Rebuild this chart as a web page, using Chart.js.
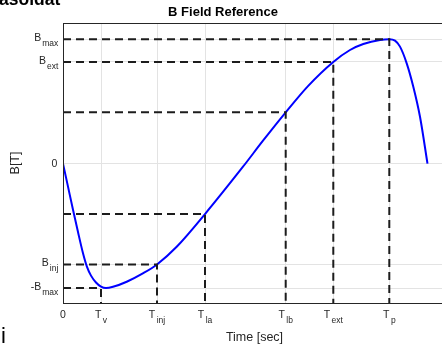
<!DOCTYPE html>
<html><head><meta charset="utf-8">
<script src="https://cdn.jsdelivr.net/npm/chart.js@4"></script>
<style>html,body{margin:0;padding:0;background:#fff;overflow:hidden}canvas{display:block}</style>
</head><body>
<canvas id="c" width="450" height="345"></canvas>
<script>
// B field reference curve (time in arbitrary units, B normalised to Bmax = 1)
const curveX = [0, 0.05, 0.1, 0.15, 0.2, 0.24, 0.28, 0.33, 0.38, 0.43, 0.5, 0.637, 0.803, 0.94, 1.137, 1.42, 1.8, 2.0, 2.227, 2.45, 2.703, 2.87, 3.003, 3.17, 3.263, 3.32, 3.37, 3.437, 3.503, 3.57, 3.645];
const curveY = [0, -0.185, -0.37, -0.55, -0.72, -0.83, -0.9, -0.955, -0.988, -1.0, -0.99, -0.949, -0.88, -0.81, -0.668, -0.405, -0.025, 0.184, 0.412, 0.623, 0.817, 0.913, 0.961, 0.994, 1.0, 0.988, 0.94, 0.806, 0.618, 0.377, 0.0];
// guide (dashed) lines: corner points
const guideX = [0.38, 0.94, 1.42, 2.227, 2.703, 3.263];
const guideY = [-1.0, -0.81, -0.405, 0.412, 0.817, 1.0];
// tick labels
const xTickValues = [0, 0.38, 0.94, 1.42, 2.227, 2.703, 3.263];
const xTickMain = ['0', 'T', 'T', 'T', 'T', 'T', 'T'];
const xTickSub = ['', 'v', 'inj', 'la', 'lb', 'ext', 'p'];
const yTickValues = [-1.0, -0.81, 0, 0.817, 1.0];
const yTickMain = ['-B', 'B', '0', 'B', 'B'];
const yTickSub = ['max', 'inj', '', 'ext', 'max'];
const xMin = 0, xMax = 3.83, yMin = -1.12, yMax = 1.13;

const FONT = '"Liberation Sans", Arial, Helvetica, sans-serif';
const TXT = '#262626';

const guideSets = guideX.map((gx, i) => ({
  data: [{x: xMin, y: guideY[i]}, {x: gx, y: guideY[i]}, {x: gx, y: yMin}],
  borderColor: '#1c1c1c', borderWidth: 2, borderDash: [8, 5],
  pointRadius: 0, fill: false, tension: 0, order: 0
}));

const labelPlugin = {
  id: 'labels',
  afterDraw(chart) {
    const ctx = chart.ctx;
    const xs = chart.scales.x, ys = chart.scales.y, ca = chart.chartArea;
    ctx.save();
    // frame box
    ctx.strokeStyle = TXT; ctx.lineWidth = 1;
    ctx.strokeRect(ca.left + 0.5, ca.top + 0.5, ca.right - ca.left - 1, ca.bottom - ca.top);
    ctx.fillStyle = TXT;
    ctx.textBaseline = 'alphabetic';
    const mainF = '10.5px ' + FONT, subF = '8.5px ' + FONT;
    // x tick labels
    xTickValues.forEach((v, i) => {
      const px = xs.getPixelForValue(v);
      ctx.font = mainF; const wm = ctx.measureText(xTickMain[i]).width;
      ctx.font = subF; const ws = xTickSub[i] ? ctx.measureText(xTickSub[i]).width + 1.5 : 0;
      const x0 = px - (wm + ws) / 2;
      ctx.textAlign = 'left';
      ctx.font = mainF; ctx.fillText(xTickMain[i], x0, 318);
      if (xTickSub[i]) { ctx.font = subF; ctx.fillText(xTickSub[i], x0 + wm + 1.5, 323); }
    });
    // y tick labels
    yTickValues.forEach((v, i) => {
      const py = ys.getPixelForValue(v);
      const right = 58.3;
      ctx.textAlign = 'left';
      if (yTickSub[i]) {
        ctx.font = subF; const ws = ctx.measureText(yTickSub[i]).width;
        ctx.font = mainF; const wm = ctx.measureText(yTickMain[i]).width;
        ctx.fillText(yTickMain[i], right - ws - 1 - wm, py + 2);
        ctx.font = subF; ctx.fillText(yTickSub[i], right - ws, py + 7);
      } else {
        ctx.font = mainF; ctx.textAlign = 'right';
        ctx.fillText(yTickMain[i], right - 1, py + 3.7);
      }
    });
    // remnants of surrounding page text
    ctx.fillStyle = '#000'; ctx.textAlign = 'left';
    ctx.font = 'bold 17.5px ' + FONT; ctx.fillText('asoldat', -1, 4.5);
    ctx.font = '22px ' + FONT; ctx.fillText('i', 1, 343);
    ctx.restore();
  }
};

new Chart(document.getElementById('c'), {
  type: 'line',
  data: {
    datasets: [
      ...guideSets,
      {
        data: curveX.map((x, i) => ({x, y: curveY[i]})),
        borderColor: '#0000ff', borderWidth: 2, pointRadius: 0, fill: false,
        cubicInterpolationMode: 'monotone', order: 1
      }
    ]
  },
  options: {
    responsive: false, animation: false,
    layout: {padding: {left: 0, right: 4, top: 0, bottom: 0}},
    plugins: {
      legend: {display: false}, tooltip: {enabled: false},
      title: {display: true, text: 'B Field Reference', color: '#000',
        font: {family: FONT, size: 13, weight: 'bold'}, padding: {top: 4.5, bottom: 2.9}}
    },
    scales: {
      x: {
        type: 'linear', min: xMin, max: xMax,
        afterBuildTicks: s => { s.ticks = xTickValues.map(v => ({value: v})); },
        afterFit: s => { s.height = 42; },
        ticks: {display: false},
        grid: {color: '#e3e3e3', drawTicks: false},
        border: {display: true, color: TXT},
        title: {display: true, text: 'Time [sec]', color: TXT, font: {family: FONT, size: 12.5}, padding: {top: 1.5, bottom: 0}}
      },
      y: {
        type: 'linear', min: yMin, max: yMax,
        afterBuildTicks: s => { s.ticks = yTickValues.map(v => ({value: v})); },
        afterFit: s => { s.width = 63; },
        ticks: {display: false},
        grid: {color: '#e3e3e3', drawTicks: false},
        border: {display: true, color: TXT},
        title: {display: true, text: 'B[T]', color: TXT, font: {family: FONT, size: 12.5}, padding: {top: 8.3, bottom: 0}}
      }
    }
  },
  plugins: [labelPlugin]
});
</script>
</body></html>
